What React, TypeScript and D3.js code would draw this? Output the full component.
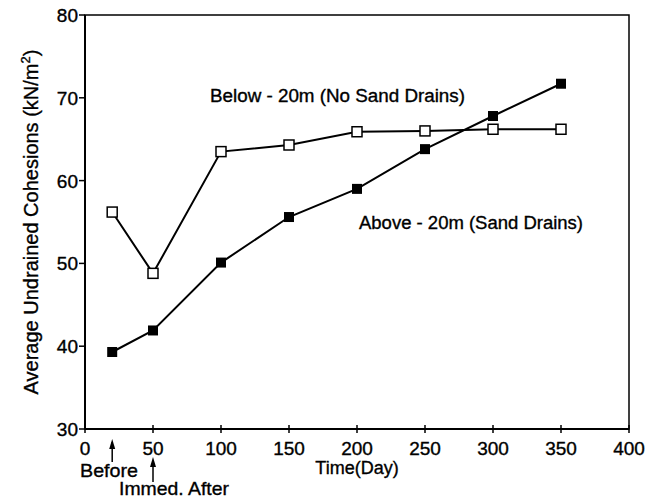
import React from "react";
import * as d3 from "d3";

const days = [20, 50, 100, 150, 200, 250, 300, 350];
const belowNoDrains = [56.2, 48.8, 63.5, 64.3, 65.9, 66.0, 66.2, 66.2];
const aboveDrains = [39.3, 41.9, 50.1, 55.6, 59.0, 63.8, 67.8, 71.7];
const xTicks = [0, 50, 100, 150, 200, 250, 300, 350, 400];
const yTicks = [30, 40, 50, 60, 70, 80];

const W = 660, H = 499;
const L = 85, R = 629, T = 15, B = 429;

export default function App() {
  const x = d3.scaleLinear().domain([0, 400]).range([L, R]);
  const y = d3.scaleLinear().domain([30, 80]).range([B, T]);
  const line = d3.line<number>().x((_, i) => x(days[i])).y((v) => y(v));
  const font = "'Liberation Sans', Arial, sans-serif";
  const ms = 10;
  const ts = { stroke: "#000", strokeWidth: 0.35 };
  return (
    <svg width={W} height={H} style={{ position: "absolute", left: 0, top: 0, background: "#fff" }} fontFamily={font}>
      <rect x={L} y={T} width={R - L} height={B - T} fill="none" stroke="#000" strokeWidth={1.5} />
      <line x1={L} x2={L} y1={T} y2={B} stroke="#000" strokeWidth={2} />
      <line x1={L} x2={R} y1={B} y2={B} stroke="#000" strokeWidth={2} />
      {yTicks.map((t) => (
        <g key={"y" + t}>
          <line x1={L - 6} x2={L} y1={y(t)} y2={y(t)} stroke="#000" strokeWidth={1.5} />
          <text x={L - 7} y={y(t) + 7} textAnchor="end" fontSize={19} {...ts}>{t}</text>
        </g>
      ))}
      {xTicks.map((t) => (
        <g key={"x" + t}>
          <line x1={x(t)} x2={x(t)} y1={B - 4} y2={B + 4} stroke="#000" strokeWidth={1.5} />
          <text x={x(t)} y={B + 26} textAnchor="middle" fontSize={19} {...ts}>{t}</text>
        </g>
      ))}
      <text x={357} y={474} textAnchor="middle" fontSize={18} {...ts}>Time(Day)</text>
      <text transform={`translate(38,222) rotate(-90)`} textAnchor="middle" fontSize={20} {...ts}>
        Average Undrained Cohesions (kN/m<tspan dy={-8} fontSize={13}>2</tspan><tspan dy={8}>)</tspan>
      </text>
      {/* arrows */}
      <line x1={x(20)} x2={x(20)} y1={462} y2={442} stroke="#000" strokeWidth={1.5} />
      <path d={`M${x(20) - 3},${449} L${x(20)},${439} L${x(20) + 3},${449} Z`} fill="#000" />
      <text x={80} y={477} fontSize={19} textLength={58} lengthAdjust="spacingAndGlyphs" {...ts}>Before</text>
      <line x1={x(50)} x2={x(50)} y1={482} y2={461} stroke="#000" strokeWidth={1.5} />
      <path d={`M${x(50) - 3},${467} L${x(50)},${457} L${x(50) + 3},${467} Z`} fill="#000" />
      <text x={119} y={495} fontSize={19} textLength={110} lengthAdjust="spacingAndGlyphs" {...ts}>Immed. After</text>
      {/* series */}
      <path d={line(belowNoDrains) || ""} fill="none" stroke="#000" strokeWidth={2} />
      <path d={line(aboveDrains) || ""} fill="none" stroke="#000" strokeWidth={2} />
      {belowNoDrains.map((v, i) => (
        <rect key={"b" + i} x={x(days[i]) - ms / 2} y={y(v) - ms / 2} width={ms} height={ms} fill="#fff" stroke="#000" strokeWidth={1.5} />
      ))}
      {aboveDrains.map((v, i) => (
        <rect key={"a" + i} x={x(days[i]) - ms / 2} y={y(v) - ms / 2} width={ms} height={ms} fill="#000" />
      ))}
      <text x={210} y={102} fontSize={18} textLength={255} lengthAdjust="spacingAndGlyphs" {...ts}>Below - 20m  (No Sand Drains)</text>
      <text x={359} y={229} fontSize={18} textLength={224} lengthAdjust="spacingAndGlyphs" {...ts}>Above - 20m (Sand Drains)</text>
    </svg>
  );
}
